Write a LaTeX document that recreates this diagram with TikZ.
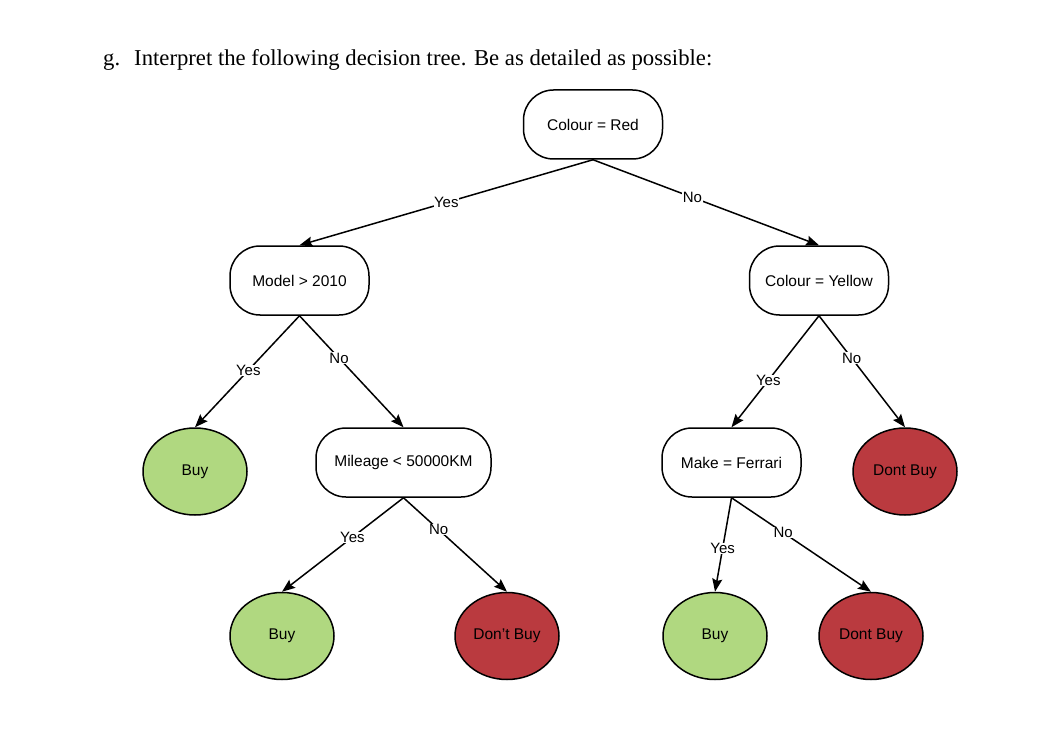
\documentclass[tikz,border=0pt]{standalone}
\usepackage{fontspec}
\setmainfont{Liberation Sans}
\newfontfamily\titlefont{Liberation Serif}
\usetikzlibrary{shapes.geometric,arrows.meta}
\definecolor{leafgreen}{RGB}{176,216,128}
\definecolor{leafred}{RGB}{186,58,63}
\begin{document}
\begin{tikzpicture}[x=1pt,y=-1pt,
  decision/.style={draw=black,line width=1.5pt,rounded corners=30pt,fill=white,
    minimum width=139pt,minimum height=69pt,inner sep=0pt,font=\fontsize{15.5}{18}\selectfont},
  leaf/.style={draw=black,line width=1.5pt,ellipse,minimum width=104pt,minimum height=87pt,
    inner sep=0pt,font=\fontsize{15.5}{18}\selectfont},
  buy/.style={leaf,fill=leafgreen},
  nobuy/.style={leaf,fill=leafred},
  edge/.style={line width=1.5pt,-{Stealth[length=13pt,width=10pt,inset=2pt]}},
  lbl/.style={fill=white,inner sep=0.5pt,font=\fontsize{15}{17}\selectfont}]
\useasboundingbox (0,0) rectangle (1060,738);
\fill[white] (0,0) rectangle (1060,738);
\node[anchor=base west,inner sep=0pt,font=\titlefont\fontsize{22.7}{26}\selectfont] (title) at (103,66)
  {g.\hspace{14pt}Interpret the following decision tree. Be as detailed as possible:};

\node[decision] (red) at (593,124.5) {Colour = Red};
\node[decision] (model) at (299.5,280.5) {Model > 2010};
\node[decision] (yellow) at (819,280.5) {Colour = Yellow};
\node[decision,minimum width=175pt] (mileage) at (403.5,462.5) {Mileage < 50000KM};
\node[decision] (ferrari) at (731.5,462.5) {Make = Ferrari};
\node[buy] (buy1) at (195,471.5) {Buy};
\node[nobuy] (nobuy1) at (905,471.5) {Dont Buy};
\node[buy] (buy2) at (282,636) {Buy};
\node[nobuy] (nobuy2) at (507,636) {Don't Buy};
\node[buy] (buy3) at (715,636) {Buy};
\node[nobuy] (nobuy3) at (871,636) {Dont Buy};

\draw[edge] (red.south) -- node[lbl,pos=0.5] {Yes} (model.north);
\draw[edge] (red.south) -- node[lbl,pos=0.44] {No} (yellow.north);
\draw[edge] (model.south) -- node[lbl,pos=0.49] {Yes} (buy1.north);
\draw[edge] (model.south) -- node[lbl,pos=0.38] {No} (mileage.north);
\draw[edge] (yellow.south) -- node[lbl,pos=0.58] {Yes} (ferrari.north);
\draw[edge] (yellow.south) -- node[lbl,pos=0.38] {No} (nobuy1.north);
\draw[edge] (mileage.south) -- node[lbl,pos=0.42] {Yes} (buy2.north);
\draw[edge] (mileage.south) -- node[lbl,pos=0.34] {No} (nobuy2.north);
\draw[edge] (ferrari.south) -- node[lbl,pos=0.54] {Yes} (buy3.north);
\draw[edge] (ferrari.south) -- node[lbl,pos=0.37] {No} (nobuy3.north);
\end{tikzpicture}
\end{document}
